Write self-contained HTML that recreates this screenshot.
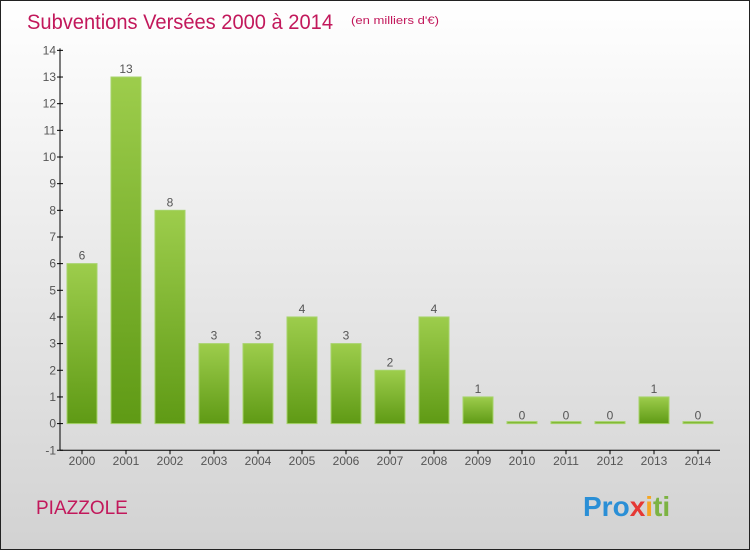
<!DOCTYPE html>
<html><head><meta charset="utf-8"><style>
body{margin:0}
svg text{font-family:"Liberation Sans",sans-serif}
</style></head><body>
<svg width="750" height="550" xmlns="http://www.w3.org/2000/svg">
<defs>
<linearGradient id="bg" x1="0" y1="0" x2="0" y2="1"><stop offset="0" stop-color="#ffffff"/><stop offset="1" stop-color="#d2d2d2"/></linearGradient>
<linearGradient id="bar" x1="0" y1="0" x2="0" y2="1"><stop offset="0" stop-color="#9dcd4c"/><stop offset="1" stop-color="#5f9a15"/></linearGradient>
</defs>
<rect x="0.5" y="0.5" width="749" height="549" fill="url(#bg)" stroke="#222"/>
<text x="27" y="29" font-size="21" fill="#c2185b" textLength="306" lengthAdjust="spacingAndGlyphs">Subventions Versées 2000 à 2014</text>
<text x="351" y="24" font-size="11" fill="#c2185b" textLength="88" lengthAdjust="spacingAndGlyphs">(en milliers d'€)</text>
<text x="36" y="514" font-size="19" fill="#c2185b">PIAZZOLE</text>
<g font-size="28" font-weight="bold">
<text x="583" y="516"><tspan fill="#2a8fd6">Pro</tspan><tspan fill="#e53935">x</tspan><tspan fill="#f5a623">i</tspan><tspan fill="#7cb342">ti</tspan></text>
</g>
<g id="axes"></g>
<g id="bars"></g>
</svg>
<script>
const years=["2000","2001","2002","2003","2004","2005","2006","2007","2008","2009","2010","2011","2012","2013","2014"];
const values=[6,13,8,3,3,4,3,2,4,1,0,0,0,1,0];
const yTicks=[-1,0,1,2,3,4,5,6,7,8,9,10,11,12,13,14];
const NS="http://www.w3.org/2000/svg";
const y=v=>423.6-(v)*26.66;
const x=i=>82+i*44;
function mk(t,a,p){const e=document.createElementNS(NS,t);for(const k in a)e.setAttribute(k,a[k]);p.appendChild(e);return e;}
const ax=document.getElementById('axes'),bs=document.getElementById('bars');
let l=mk('line',{x1:60,y1:y(14)-2,x2:60,y2:y(-1),stroke:'#000'},ax);


l=mk('line',{x1:60,y1:y(-1),x2:720,y2:y(-1),stroke:'#000'},ax);


yTicks.forEach(v=>{
 mk('line',{x1:57,y1:y(v),x2:63,y2:y(v),stroke:'#000'},ax);
 const t=mk('text',{x:56,y:y(v)+4,'font-size':12,fill:'#555','text-anchor':'end'},ax);
 t.textContent=v;
 
 
});
years.forEach((yr,i)=>{
 mk('line',{x1:x(i),y1:y(-1),x2:x(i),y2:y(-1)+4,stroke:'#000'},ax);
 const t=mk('text',{x:x(i),y:465,'font-size':12,fill:'#555','text-anchor':'middle'},ax);
 t.textContent=yr;
 
 
 const v=values[i];
 const top=y(v),h=Math.max(y(0)-top,2);
 const r=mk('rect',{x:x(i)-15,y:Math.min(top,y(0)-2),width:30,height:h,fill:'url(#bar)',stroke:'#a6d36a','stroke-width':1},bs);
 
 
 const lb=mk('text',{x:x(i),y:top-4,'font-size':12,fill:'#555','text-anchor':'middle'},bs);
 lb.textContent=v;
 
 
});
</script>
</body></html>
